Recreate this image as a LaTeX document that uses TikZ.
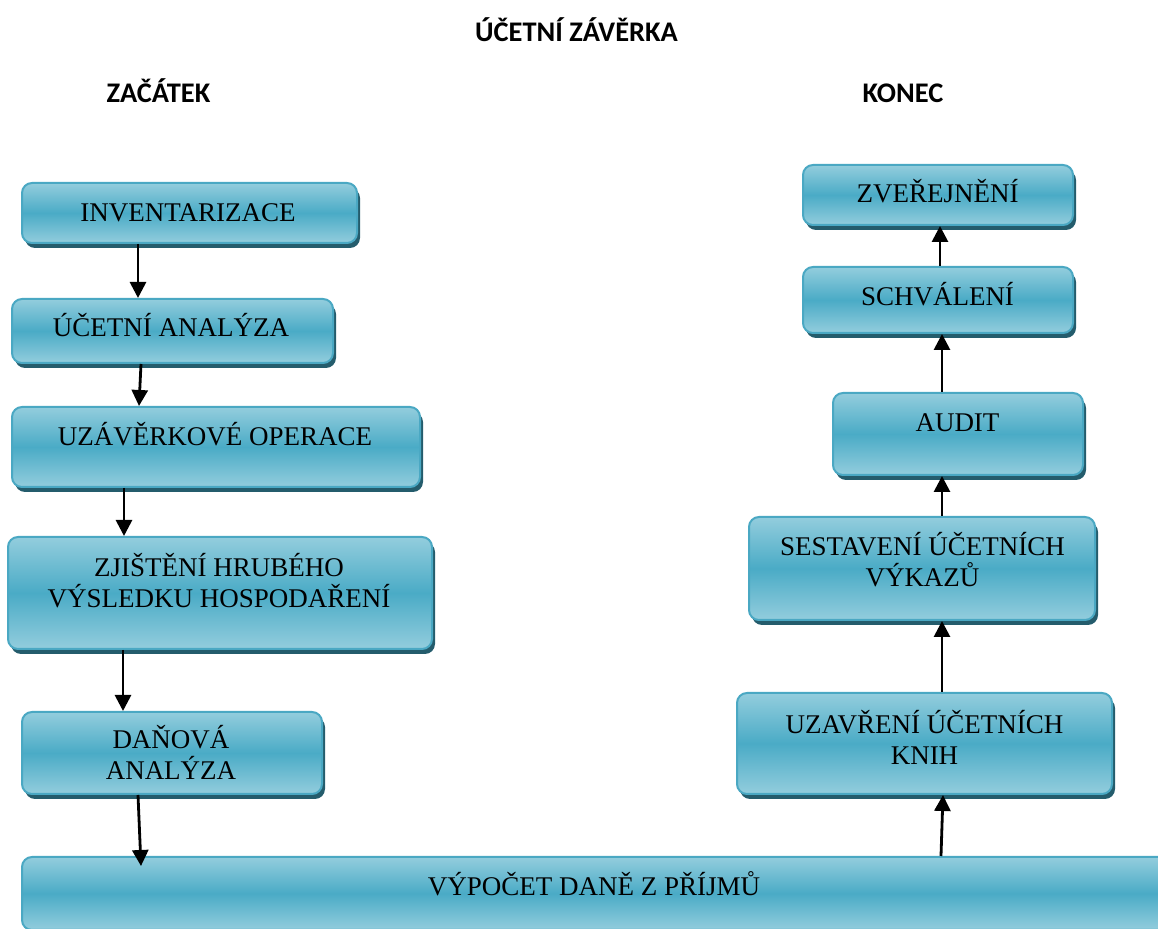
\documentclass[tikz,border=0pt]{standalone}
\usepackage{fontspec}
\setmainfont{Liberation Serif}
\newfontfamily\titlefont{Carlito}
\usetikzlibrary{arrows.meta,shadows}
\definecolor{boxlight}{HTML}{93CDDD}
\definecolor{boxdark}{HTML}{4AABC6}
\definecolor{boxborder}{HTML}{4AA8C3}
\definecolor{boxshadow}{HTML}{245C6C}
\begin{document}
\begin{tikzpicture}[x=0.5pt,y=-0.5pt,
  box/.style={draw=boxborder, line width=1pt, rounded corners=5pt,
    top color=boxlight, bottom color=boxlight, middle color=boxdark,
    drop shadow={shadow xshift=1.5pt, shadow yshift=-2.5pt, fill=boxshadow, opacity=1},
    inner sep=0pt},
  lbl/.style={font=\fontsize{13.5}{15.5}\selectfont, align=center, anchor=base, inner sep=0pt},
  ttl/.style={font=\titlefont\bfseries\fontsize{14.2}{17}\selectfont, anchor=base, inner sep=0pt},
  arr/.style={line width=1.4pt, -{Triangle[length=8pt,width=8pt]}}]
\useasboundingbox (0,0) rectangle (1158,929);
\clip (0,0) rectangle (1158,929);

% titles
\node[ttl] (title) at (576.5,42) {ÚČETNÍ ZÁVĚRKA};
\node[ttl] (start) at (158.5,103) {ZAČÁTEK};
\node[ttl] (end) at (903,103) {KONEC};

% boxes left
\node[box, minimum width=167.5pt, minimum height=30pt] (inv) at (189.5,213) {};
\node[box, minimum width=160.5pt, minimum height=32pt] (ua) at (172.5,331) {};
\node[box, minimum width=204pt, minimum height=40pt] (uo) at (216,447) {};
\node[box, minimum width=212pt, minimum height=56pt] (zj) at (220,593) {};
\node[box, minimum width=150pt, minimum height=41pt] (da) at (172,753) {};
\node[box, minimum width=594pt, minimum height=36.5pt] (vy) at (616,893.5) {};
% boxes right
\node[box, minimum width=187.5pt, minimum height=50.5pt] (uz) at (924.5,743.5) {};
\node[box, minimum width=173pt, minimum height=51.5pt] (se) at (922,568.5) {};
\node[box, minimum width=125pt, minimum height=41pt] (au) at (958,434) {};
\node[box, minimum width=135pt, minimum height=33pt] (sc) at (938,300) {};
\node[box, minimum width=135pt, minimum height=30pt] (zv) at (938,195) {};

% labels
\node[lbl] (tinv) at (188,222) {INVENTARIZACE};
\node[lbl] (tua) at (171,337) {ÚČETNÍ ANALÝZA};
\node[lbl] (tuo) at (215,446) {UZÁVĚRKOVÉ OPERACE};
\node[lbl] (tzj) at (219,608) {ZJIŠTĚNÍ HRUBÉHO\\VÝSLEDKU HOSPODAŘENÍ};
\node[lbl] (tda) at (171,780) {DAŇOVÁ\\ANALÝZA};
\node[lbl] (tvy) at (594,896) {VÝPOČET DANĚ Z PŘÍJMŮ};
\node[lbl] (tuz) at (924.5,765) {UZAVŘENÍ ÚČETNÍCH\\KNIH};
\node[lbl] (tse) at (922.5,587) {SESTAVENÍ ÚČETNÍCH\\VÝKAZŮ};
\node[lbl] (tau) at (957.5,432) {AUDIT};
\node[lbl] (tsc) at (937.5,306) {SCHVÁLENÍ};
\node[lbl] (tzv) at (937.5,203) {ZVEŘEJNĚNÍ};

% arrows
\draw[arr] ([xshift=-25.75pt]inv.south) -- ([xshift=-17.25pt]ua.north);
\draw[arr] ([xshift=-15.75pt]ua.south) -- ([xshift=-38.5pt]uo.north);
\draw[arr] ([xshift=-46pt]uo.south) -- ([xshift=-48pt]zj.north);
\draw[arr] ([xshift=-48.5pt]zj.south) -- ([xshift=-24.5pt]da.north);
\draw[arr] ([xshift=-17pt]da.south) -- ([xshift=-237.5pt,yshift=-5pt]vy.north);
\draw[arr] ([xshift=162.5pt]vy.north) -- ([xshift=9.25pt]uz.south);
\draw[arr] ([xshift=8.75pt]uz.north) -- ([xshift=10pt]se.south);
\draw[arr] ([xshift=10pt]se.north) -- ([xshift=-8pt]au.south);
\draw[arr] ([xshift=-8pt]au.north) -- ([xshift=2pt]sc.south);
\draw[arr] ([xshift=1pt]sc.north) -- ([xshift=1pt]zv.south);
\end{tikzpicture}
\end{document}
